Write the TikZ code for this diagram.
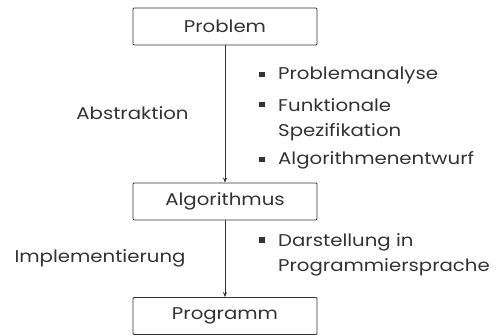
\documentclass[tikz,border=0pt]{standalone}
\usepackage{fontspec}
\setmainfont[FakeStretch=1.16]{Poppins}
\usetikzlibrary{arrows.meta}
\definecolor{ink}{HTML}{333333}
\begin{document}
\begin{tikzpicture}[x=1pt,y=-1pt,
        font=\fontsize{17}{25.5}\selectfont, text=ink,
        box/.style={draw=ink, line width=0.8pt, rounded corners=1pt, minimum width=184pt, minimum height=37pt, inner sep=0pt},
        bul/.style={fill=ink, minimum size=5.5pt, inner sep=0pt},
        item/.style={anchor=west, inner sep=0pt, align=left},
        flow/.style={draw=ink, line width=0.8pt, -{Stealth[length=5pt,width=4pt]}}]
        \useasboundingbox (0,0) rectangle (494,335);
        % the three stages
        \node[box] (problem) at (225,26.5) {Problem};
        \node[box] (algo) at (225,201.5) {Algorithmus};
        \node[box] (prog) at (225,316) {Programm};
        \draw[flow] (problem) -- (algo);
        \draw[flow] (algo) -- (prog);
        % step names
        \node (abstr) at (132.5,113) {Abstraktion};
        \node (impl) at (100,258) {Implementierung};
        % bullet lists
        \node[bul] (b1) at (262,74.5) {};
        \node[item] (analyse) at (278,75) {Problemanalyse};
        \node[bul] (b2) at (262,104.5) {};
        \node[item, anchor=north west] (spez) at (278,98) {Funktionale\\Spezifikation};
        \node[bul] (b3) at (262,159.5) {};
        \node[item] (entwurf) at (278,160) {Algorithmenentwurf};
        \node[bul] (b4) at (262,240) {};
        \node[item, anchor=north west] (darst) at (278,233) {Darstellung in\\Programmiersprache};
\end{tikzpicture}
\end{document}
